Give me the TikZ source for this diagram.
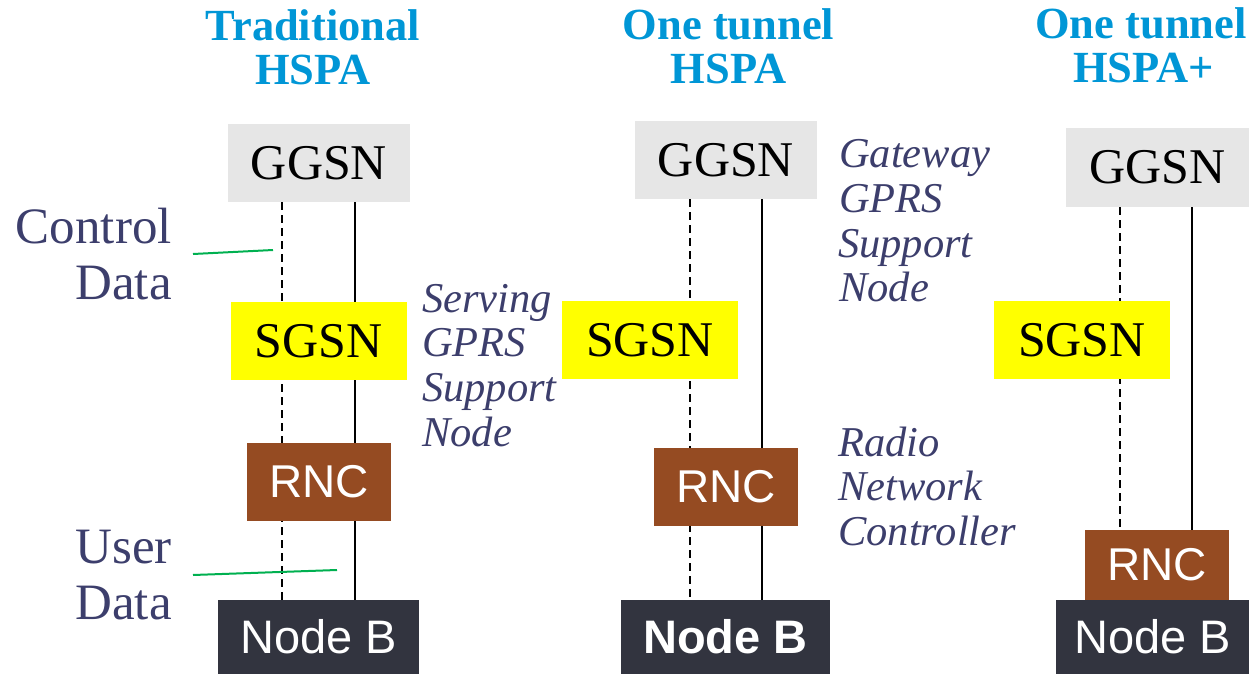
\documentclass[tikz,border=0pt]{standalone}
\usepackage{fontspec}
\setmainfont{Liberation Serif}
\newfontfamily\sansf{Liberation Sans}
\usetikzlibrary{backgrounds}
\definecolor{titleblue}{RGB}{0,150,214}
\definecolor{slate}{RGB}{60,62,108}
\definecolor{ggsngray}{RGB}{230,230,230}
\definecolor{sgsnyellow}{RGB}{255,255,0}
\definecolor{rncbrown}{RGB}{149,75,34}
\definecolor{nodebdark}{RGB}{50,52,63}
\definecolor{leadgreen}{RGB}{0,176,80}
\tikzset{
  box/.style={inner sep=0pt, outer sep=0pt, anchor=center},
  ggsnbox/.style={box, fill=ggsngray, minimum width=182pt, minimum height=78pt,
    font=\fontsize{50}{50}\selectfont},
  sgsnbox/.style={box, fill=sgsnyellow, minimum width=176pt, minimum height=78pt,
    font=\fontsize{50}{50}\selectfont},
  rncbox/.style={box, fill=rncbrown, text=white, minimum width=144pt, minimum height=78pt,
    font=\sansf\fontsize{46}{46}\selectfont},
  nodebbox/.style={box, fill=nodebdark, text=white, minimum height=74pt,
    font=\sansf\fontsize{47}{47}\selectfont},
  title/.style={anchor=base, inner sep=0pt, text=titleblue,
    font=\bfseries\fontsize{44.5}{44.5}\selectfont},
  sidelabel/.style={anchor=base east, inner sep=0pt, text=slate,
    font=\fontsize{51}{51}\selectfont},
  note/.style={anchor=base west, inner sep=0pt, text=slate,
    font=\itshape\fontsize{42.5}{42.5}\selectfont},
  ctrlline/.style={line width=2.2pt, dash pattern=on 8pt off 5pt},
  userline/.style={line width=2.6pt},
  leader/.style={line width=2pt, leadgreen}
}
\begin{document}
\begin{tikzpicture}[x=1pt,y=-1pt]
\useasboundingbox (0,0) rectangle (1249,674);

% titles
\node[title] (t1a) at (313,41) {Traditional};
\node[title] (t1b) at (313,85) {HSPA};
\node[title] (t2a) at (728.5,40) {One tunnel};
\node[title] (t2b) at (728.5,84) {HSPA};
\node[title] (t3a) at (1141,39) {One tunnel};
\node[title] (t3b) at (1143.5,83) {HSPA+};

% side labels
\node[sidelabel] (lc1) at (172,243) {Control};
\node[sidelabel] (lc2) at (172,299) {Data};
\node[sidelabel] (lu1) at (172,563) {User};
\node[sidelabel] (lu2) at (172,619) {Data};

% column 1
\node[ggsnbox] (g1) at (319,163) {GGSN};
\node[sgsnbox] (s1) at (318.5,341) {SGSN};
\node[rncbox] (r1) at (319,482) {RNC};
\node[nodebbox, minimum width=201pt] (b1) at (318.5,637) {Node B};

% column 2
\node[ggsnbox] (g2) at (726,160) {GGSN};
\node[sgsnbox] (s2) at (650,340) {SGSN};
\node[rncbox] (r2) at (726,487) {RNC};
\node[nodebbox, minimum width=209pt, font=\sansf\bfseries\fontsize{47}{47}\selectfont] (b2) at (725.5,637) {Node B};

% column 3
\node[ggsnbox, minimum width=183pt, minimum height=79pt] (g3) at (1157.5,167.5) {GGSN};
\node[sgsnbox] (s3) at (1082,340) {SGSN};
\node[rncbox, minimum height=70pt] (r3) at (1157,565) {RNC};
\node[nodebbox, minimum width=193pt] (b3) at (1152.5,637) {Node B};

% notes
\node[note] (n1a) at (422,312) {Serving};
\node[note] (n1b) at (422,356) {GPRS};
\node[note] (n1c) at (422,401) {Support};
\node[note] (n1d) at (422,446) {Node};
\node[note] (n2a) at (839,167) {Gateway};
\node[note] (n2b) at (839,212) {GPRS};
\node[note] (n2c) at (838,257) {Support};
\node[note] (n2d) at (839,301) {Node};
\node[note] (n3a) at (838,456) {Radio};
\node[note] (n3b) at (838,500) {Network};
\node[note] (n3c) at (838,545) {Controller};

% line positions
\coordinate (x1d) at (282,0);
\coordinate (x1s) at (355,0);
\coordinate (x2d) at (690,0);
\coordinate (x2s) at (762,0);
\coordinate (x3d) at (1120,0);
\coordinate (x3s) at (1192,0);
\coordinate (lcs) at (193,254);
\coordinate (lce) at (273,250);
\coordinate (lus) at (193,575);
\coordinate (lue) at (337,570);

\begin{pgfonlayer}{background}
\draw[ctrlline] (g1.south -| x1d) -- (b1.north -| x1d);
\draw[userline] (g1.south -| x1s) -- ([yshift=-5pt]b1.north -| x1s);
\draw[ctrlline] (g2.south -| x2d) -- (b2.north -| x2d);
\draw[userline] (g2.south -| x2s) -- (b2.north -| x2s);
\draw[ctrlline] (g3.south -| x3d) -- (r3.north -| x3d);
\draw[userline] (g3.south -| x3s) -- (r3.north -| x3s);
\end{pgfonlayer}

\draw[leader] (lcs) -- (lce);
\draw[leader] (lus) -- (lue);
\end{tikzpicture}
\end{document}
